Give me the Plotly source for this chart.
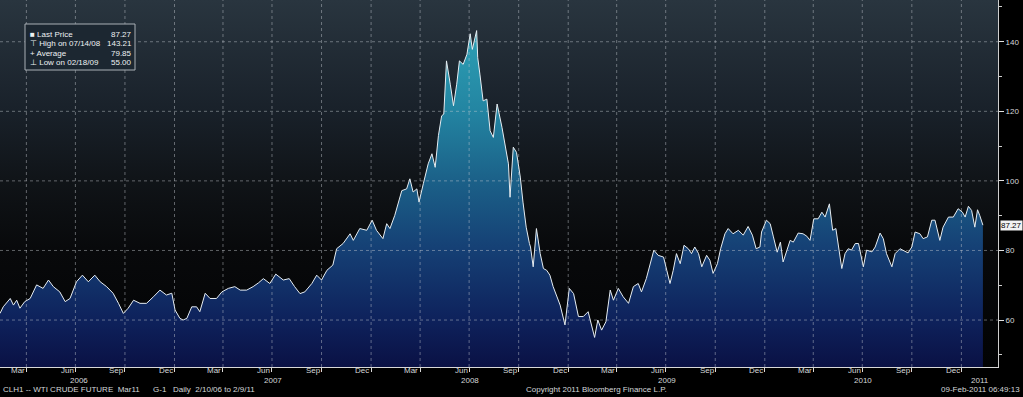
import plotly.graph_objects as go
import pandas as pd

# ---------------- data ----------------
dates = [
    "2006-02-10", "2006-02-16", "2006-03-01", "2006-03-07", "2006-03-13", "2006-03-19", "2006-03-28",
    "2006-04-07", "2006-04-19", "2006-05-01", "2006-05-11", "2006-05-20", "2006-06-01", "2006-06-11",
    "2006-06-20", "2006-07-02", "2006-07-13", "2006-07-24", "2006-08-05", "2006-08-15", "2006-08-27",
    "2006-09-08", "2006-09-18", "2006-09-27", "2006-10-06", "2006-10-16", "2006-10-28", "2006-11-09",
    "2006-11-22", "2006-12-04", "2006-12-16", "2006-12-26", "2007-01-01", "2007-01-10", "2007-01-16",
    "2007-01-23", "2007-02-01", "2007-02-10", "2007-02-16", "2007-02-26", "2007-03-07", "2007-03-19",
    "2007-03-29", "2007-04-10", "2007-04-22", "2007-05-02", "2007-05-14", "2007-05-26", "2007-06-05",
    "2007-06-14", "2007-06-26", "2007-07-07", "2007-07-21", "2007-08-01", "2007-08-11", "2007-08-21",
    "2007-08-30", "2007-09-12", "2007-09-21", "2007-09-30", "2007-10-10", "2007-10-21", "2007-10-28",
    "2007-11-09", "2007-11-22", "2007-11-28", "2007-12-10", "2007-12-23", "2008-01-02", "2008-01-10",
    "2008-01-22", "2008-01-29", "2008-02-04", "2008-02-13", "2008-02-26", "2008-03-06", "2008-03-12",
    "2008-03-18", "2008-03-25", "2008-03-29", "2008-04-06", "2008-04-15", "2008-04-22", "2008-04-28",
    "2008-05-04", "2008-05-10", "2008-05-14", "2008-05-19", "2008-05-26", "2008-06-01", "2008-06-07",
    "2008-06-12", "2008-06-19", "2008-06-26", "2008-07-02", "2008-07-06", "2008-07-14", "2008-07-16",
    "2008-07-20", "2008-07-26", "2008-08-02", "2008-08-08", "2008-08-14", "2008-08-21", "2008-08-30",
    "2008-09-05", "2008-09-11", "2008-09-14", "2008-09-20", "2008-09-26", "2008-10-03", "2008-10-08",
    "2008-10-14", "2008-10-20", "2008-10-22", "2008-10-27", "2008-11-02", "2008-11-09", "2008-11-15",
    "2008-11-21", "2008-11-27", "2008-12-03", "2008-12-10", "2008-12-16", "2008-12-25", "2009-01-02",
    "2009-01-10", "2009-01-19", "2009-01-28", "2009-02-06", "2009-02-18", "2009-02-24", "2009-03-03",
    "2009-03-11", "2009-03-19", "2009-03-25", "2009-04-03", "2009-04-12", "2009-04-22", "2009-05-01",
    "2009-05-10", "2009-05-16", "2009-05-25", "2009-06-01", "2009-06-08", "2009-06-16", "2009-06-26",
    "2009-07-02", "2009-07-08", "2009-07-14", "2009-07-20", "2009-07-27", "2009-08-03", "2009-08-11",
    "2009-08-17", "2009-08-23", "2009-08-30", "2009-09-05", "2009-09-14", "2009-09-20", "2009-09-26",
    "2009-10-04", "2009-10-10", "2009-10-18", "2009-10-24", "2009-11-02", "2009-11-12", "2009-11-21",
    "2009-11-30", "2009-12-08", "2009-12-15", "2009-12-22", "2009-12-25", "2010-01-03", "2010-01-10",
    "2010-01-16", "2010-01-23", "2010-01-29", "2010-02-03", "2010-02-10", "2010-02-16", "2010-02-22",
    "2010-03-03", "2010-03-12", "2010-03-19", "2010-03-25", "2010-04-01", "2010-04-09", "2010-04-16",
    "2010-04-22", "2010-04-30", "2010-05-06", "2010-05-12", "2010-05-17", "2010-05-23", "2010-05-29",
    "2010-06-04", "2010-06-10", "2010-06-17", "2010-06-23", "2010-07-02", "2010-07-08", "2010-07-18",
    "2010-07-24", "2010-08-02", "2010-08-08", "2010-08-14", "2010-08-24", "2010-08-30", "2010-09-08",
    "2010-09-14", "2010-09-23", "2010-09-30", "2010-10-06", "2010-10-15", "2010-10-21", "2010-10-29",
    "2010-11-06", "2010-11-12", "2010-11-21", "2010-11-27", "2010-12-07", "2010-12-16", "2010-12-25",
    "2011-01-02", "2011-01-07", "2011-01-13", "2011-01-19", "2011-01-25", "2011-01-30", "2011-02-03",
    "2011-02-09",
]
prices = [
    61.9, 63.8, 66.2, 64.3, 65.7, 63.4, 65.3,
    66.2, 70.1, 69.1, 71.5, 69.6, 68.1, 65.3,
    66.2, 71.0, 72.9, 71.0, 72.9, 71.0, 69.6,
    67.7, 64.8, 61.9, 63.4, 65.7, 64.8, 64.8,
    66.7, 68.6, 67.2, 67.7, 62.9, 60.5, 60.0,
    60.5, 63.8, 63.8, 62.4, 67.7, 66.2, 66.2,
    68.1, 69.1, 69.6, 68.6, 68.6, 69.6, 70.7,
    71.9, 70.5, 73.2, 71.5, 71.9, 69.6, 67.6,
    68.1, 70.5, 72.9, 71.5, 74.3, 75.8, 80.5,
    82.0, 84.8, 82.9, 86.3, 85.8, 88.7, 85.8,
    83.4, 87.7, 86.3, 90.1, 97.2, 97.7, 100.6,
    96.8, 97.7, 93.9, 99.2, 104.9, 107.8, 103.9,
    113.0, 118.7, 119.2, 134.5, 127.8, 121.6, 127.8,
    134.5, 133.5, 136.4, 142.3, 137.8, 143.21, 135.4,
    130.7, 123.0, 123.5, 114.4, 112.5, 122.1, 115.4,
    109.7, 104.9, 95.3, 109.7, 108.2, 101.1, 93.9,
    86.7, 82.0, 81.0, 75.3, 86.3, 79.1, 74.8,
    74.3, 72.9, 69.6, 66.7, 64.3, 58.6, 69.1,
    67.6, 61.0, 61.0, 62.4, 55.0, 60.0, 57.1,
    59.5, 68.6, 65.7, 69.1, 66.7, 64.8, 69.6,
    70.5, 68.1, 71.9, 76.2, 80.1, 78.6, 78.1,
    74.3, 70.5, 74.3, 79.1, 76.2, 81.5, 80.5,
    79.1, 81.0, 79.1, 75.3, 78.6, 77.2, 73.4,
    76.2, 80.5, 84.8, 86.3, 84.8, 85.8, 84.4,
    86.9, 84.4, 80.5, 81.0, 85.3, 88.7, 87.7,
    83.9, 79.5, 82.4, 76.7, 80.0, 82.9, 82.4,
    85.0, 84.8, 84.1, 82.9, 89.1, 89.1, 91.0,
    89.6, 93.4, 85.8, 86.3, 81.0, 74.8, 79.1,
    80.5, 80.1, 82.0, 82.0, 75.3, 80.1, 79.6,
    81.0, 85.0, 83.4, 79.1, 75.3, 79.1, 80.5,
    80.1, 79.3, 81.0, 85.3, 84.8, 83.4, 83.9,
    88.7, 88.7, 82.9, 86.7, 89.6, 89.6, 92.0,
    91.0, 89.6, 92.7, 91.5, 86.7, 91.7, 90.1,
    87.27,
]

y_ticks = [60, 80, 100, 120, 140]
quarter_months = [3, 6, 9, 12]
quarter_names = ["Mar", "Jun", "Sep", "Dec"]
label_years = [2006, 2007, 2008, 2009, 2010]
year_labels = ["2006", "2007", "2008", "2009", "2010", "2011"]
year_label_dates = ["2006-07-07", "2007-07-02", "2008-07-02", "2009-07-02", "2010-07-02", "2011-02-03"]

legend_icons = ["\u25A0", "\u22A4", "+", "\u22A5"]
legend_labels = ["Last Price", "High on 07/14/08", "Average", "Low on 02/18/09"]
legend_values = ["87.27", "143.21", "79.85", "55.00"]
last_price = 87.27

footer_left = "CLH1 -- WTI CRUDE FUTURE\u00a0\u00a0Mar11\u00a0\u00a0\u00a0\u00a0\u00a0\u00a0G-1\u00a0\u00a0\u00a0Daily\u00a0\u00a02/10/06 to 2/9/11"
footer_mid = "Copyright 2011 Bloomberg Finance L.P."
footer_right = "09-Feb-2011 06:49:13"

# ---------------- layout constants ----------------
X_START, X_END = "2006-02-10", "2011-03-09"
Y_MIN, Y_MAX = 46.5, 152.0
W, H = 1023, 397
ML, MR, MT, MB = 0, 25, 0, 30
PW, PH = W - ML - MR, H - MT - MB
FONT = "Liberation Sans"
TXT = "#d4d7d9"


def px(x):
    return x / PW


def py(y):
    return 1 - y / PH


grid_dates = []
label_dates = []
label_texts = []
for yr in label_years:
    for m, name in zip(quarter_months, quarter_names):
        end = pd.Timestamp(yr, m, 1) + pd.offsets.MonthEnd(0)
        grid_dates.append(end.strftime("%Y-%m-%d"))
        label_dates.append(pd.Timestamp(yr, m, 15).strftime("%Y-%m-%d"))
        label_texts.append(name)

fig = go.Figure()

# background gradient of the plot area
fig.add_trace(go.Scatter(
    x=[X_START, X_END], y=[Y_MAX, Y_MAX], mode="lines", line=dict(width=0),
    fill="tozeroy", hoverinfo="skip",
    fillgradient=dict(type="vertical", start=Y_MIN, stop=Y_MAX,
                      colorscale=[[0, "#020304"], [0.32, "#08090b"], [0.51, "#101418"],
                                  [0.70, "#19212a"], [1, "#29353f"]]),
))

# price area
fig.add_trace(go.Scatter(
    x=dates, y=prices, mode="lines", line=dict(color="#e6edf2", width=1),
    fill="tozeroy", hoverinfo="x+y",
    fillgradient=dict(type="vertical", start=Y_MIN, stop=145,
                      colorscale=[[0, "#0a1144"], [0.14, "#0e225c"], [0.34, "#153f74"],
                                  [0.54, "#1b6088"], [0.75, "#2385a2"], [1, "#2ea2b6"]]),
))

shapes = []
grid_line = dict(color="rgba(200,205,210,0.45)", width=1, dash="dot")
for v in y_ticks:
    shapes.append(dict(type="line", xref="paper", yref="y", x0=0, x1=1, y0=v, y1=v,
                       line=grid_line, layer="above"))
for d in grid_dates:
    shapes.append(dict(type="line", xref="x", yref="paper", x0=d, x1=d, y0=0, y1=1,
                       line=grid_line, layer="above"))
# legend box
shapes.append(dict(type="rect", xref="paper", yref="paper", x0=px(25), x1=px(135),
                   y0=py(70), y1=py(24), fillcolor="#1c2731",
                   line=dict(color="#a9b0b6", width=1), layer="above"))

annotations = []
small = dict(family=FONT, size=8, color=TXT)
for d, t in zip(label_dates, label_texts):
    annotations.append(dict(x=d, y=-(370.7 - PH) / PH, xref="x", yref="paper", text=t,
                            showarrow=False, xanchor="center", yanchor="middle", font=small))
for d, t in zip(year_label_dates, year_labels):
    annotations.append(dict(x=d, y=-(380 - PH) / PH, xref="x", yref="paper", text=t,
                            showarrow=False, xanchor="center", yanchor="middle", font=small))
annotations.append(dict(x=px(1), y=-(389.5 - PH) / PH, xref="paper", yref="paper", text=footer_left,
                        showarrow=False, xanchor="left", yanchor="middle", font=small))
annotations.append(dict(x=px(596), y=-(389.5 - PH) / PH, xref="paper", yref="paper", text=footer_mid,
                        showarrow=False, xanchor="center", yanchor="middle", font=small))
annotations.append(dict(x=px(1022), y=-(389.5 - PH) / PH, xref="paper", yref="paper", text=footer_right,
                        showarrow=False, xanchor="right", yanchor="middle", font=small))

rows_y = [34, 43.7, 53.3, 63]
leg_font = dict(family=FONT, size=8, color="#eef1f3")
for yy, ic, lab, val in zip(rows_y, legend_icons, legend_labels, legend_values):
    annotations.append(dict(x=px(28), y=py(yy), xref="paper", yref="paper",
                            text=ic + " " + lab, showarrow=False, xanchor="left",
                            yanchor="middle", font=leg_font))
    annotations.append(dict(x=px(134), y=py(yy), xref="paper", yref="paper",
                            text=val, showarrow=False, xanchor="right",
                            yanchor="middle", font=leg_font))

# last price marker on the right axis
annotations.append(dict(x=1, y=last_price, xref="paper", yref="y", text=f"{last_price:.2f}",
                        showarrow=False, xanchor="left", yanchor="middle", xshift=2,
                        bgcolor="#f2f2f2", borderpad=0,
                        font=dict(family=FONT, size=8, color="#000000")))

fig.update_layout(
    width=W, height=H, margin=dict(l=ML, r=MR, t=MT, b=MB, pad=0),
    paper_bgcolor="#000000", plot_bgcolor="#000000", showlegend=False,
    shapes=shapes, annotations=annotations,
    xaxis=dict(type="date", range=[X_START, X_END], showgrid=False, zeroline=False,
               tickmode="array", tickvals=grid_dates, showticklabels=False,
               ticks="outside", ticklen=4, tickcolor="#d8d8d8", tickwidth=1,
               showline=True, linecolor="#d8d8d8", linewidth=1, layer="above traces"),
    yaxis=dict(side="right", range=[Y_MIN, Y_MAX], showgrid=False, zeroline=False,
               tickmode="array", tickvals=y_ticks, ticks="outside", ticklen=5,
               tickcolor="#e0e0e0", tickwidth=1,
               tickfont=dict(family=FONT, size=8, color=TXT),
               showline=True, linecolor="#cfcfcf", linewidth=1, layer="above traces",
               minor=dict(ticks="outside", ticklen=3, tick0=50, dtick=10,
                          tickcolor="#cfcfcf", showgrid=False)),
)

fig.write_html("out.html", config={"displayModeBar": False},
               post_script="document.body.style.margin='0';")
